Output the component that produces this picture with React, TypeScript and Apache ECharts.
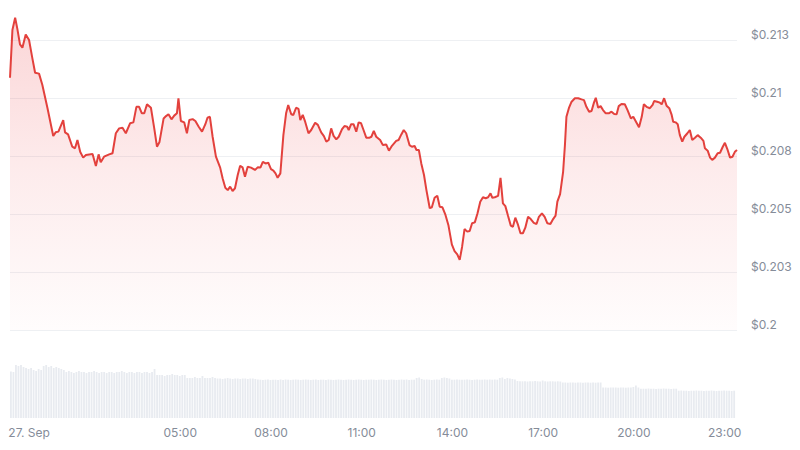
import React, { useEffect, useRef } from "react";
import * as echarts from "echarts";

// Hours relative to 27 Sep 00:00
const priceHours: number[] = [
  -0.63, -0.55, -0.46, -0.39, -0.30, -0.22, -0.11, 0.00, 0.11, 0.20,
  0.33, 0.44, 0.61, 0.80, 0.88, 0.97, 1.13, 1.19, 1.29, 1.43,
  1.52, 1.60, 1.69, 1.79, 1.88, 2.10, 2.21, 2.30, 2.37, 2.48,
  2.65, 2.76, 2.87, 2.98, 3.09, 3.20, 3.34, 3.45, 3.55, 3.64,
  3.73, 3.81, 3.90, 4.03, 4.14, 4.23, 4.31, 4.45, 4.53, 4.61,
  4.71, 4.80, 4.89, 4.94, 5.02, 5.13, 5.22, 5.30, 5.41, 5.50,
  5.61, 5.72, 5.83, 5.90, 5.98, 6.07, 6.18, 6.32, 6.40, 6.49,
  6.57, 6.65, 6.73, 6.81, 6.90, 6.98, 7.06, 7.14, 7.23, 7.34,
  7.47, 7.56, 7.65, 7.73, 7.82, 7.91, 8.00, 8.08, 8.15, 8.22,
  8.31, 8.41, 8.50, 8.57, 8.67, 8.74, 8.83, 8.91, 8.97, 9.05,
  9.13, 9.24, 9.33, 9.46, 9.55, 9.66, 9.75, 9.83, 9.91, 9.99,
  10.07, 10.16, 10.24, 10.35, 10.43, 10.52, 10.57, 10.65, 10.73, 10.82,
  10.90, 10.98, 11.06, 11.15, 11.26, 11.32, 11.40, 11.48,
  11.61, 11.70, 11.81, 11.90, 12.00, 12.14, 12.22, 12.31, 12.39, 12.47,
  12.58, 12.66, 12.75, 12.81, 12.89, 12.97, 13.06, 13.14, 13.25, 13.32,
  13.41, 13.50, 13.58, 13.67, 13.77, 13.87, 13.98, 14.07, 14.16, 14.24,
  14.32, 14.40, 14.49, 14.57, 14.65, 14.74, 14.83, 14.92, 15.01, 15.10,
  15.18, 15.26, 15.32, 15.40, 15.51, 15.59, 15.67, 15.75, 15.84, 15.93,
  16.00, 16.08, 16.17, 16.25, 16.33, 16.41, 16.50, 16.59, 16.69, 16.78,
  16.86, 16.96, 17.05, 17.14, 17.24, 17.33, 17.41, 17.47, 17.56, 17.66,
  17.72, 17.77, 17.85, 17.94, 18.05, 18.16, 18.27, 18.35, 18.43, 18.52,
  18.60, 18.68, 18.74, 18.82, 18.90, 18.98, 19.07, 19.17, 19.26, 19.35,
  19.43, 19.50, 19.59, 19.70, 19.79, 19.90, 19.98, 20.07, 20.17, 20.26,
  20.33, 20.42, 20.53, 20.62, 20.67, 20.77, 20.86, 20.92, 21.00, 21.08,
  21.17, 21.25, 21.30, 21.38, 21.45, 21.52, 21.60, 21.67, 21.77, 21.85,
  21.93, 22.02, 22.11, 22.21, 22.30, 22.35, 22.44, 22.52, 22.59, 22.68,
  22.77, 22.85, 22.94, 23.01, 23.09, 23.18, 23.26, 23.34, 23.41,
];

const prices: number[] = [
  0.21087, 0.21293, 0.21346, 0.21300, 0.21231, 0.21217, 0.21274, 0.21250, 0.21171, 0.21109,
  0.21105, 0.21056, 0.20956, 0.20836, 0.20852, 0.20855, 0.20905, 0.20852, 0.20843, 0.20790,
  0.20783, 0.20819, 0.20768, 0.20743, 0.20754, 0.20759, 0.20707, 0.20757, 0.20723, 0.20747,
  0.20757, 0.20762, 0.20848, 0.20869, 0.20872, 0.20848, 0.20891, 0.20895, 0.20962, 0.20962,
  0.20934, 0.20934, 0.20973, 0.20958, 0.20869, 0.20790, 0.20809, 0.20912, 0.20922, 0.20930,
  0.20908, 0.20924, 0.20934, 0.20999, 0.20901, 0.20895, 0.20848, 0.20905, 0.20909, 0.20901,
  0.20876, 0.20855, 0.20887, 0.20915, 0.20919, 0.20833, 0.20747, 0.20700, 0.20654, 0.20613,
  0.20603, 0.20618, 0.20599, 0.20611, 0.20668, 0.20708, 0.20701, 0.20661, 0.20704, 0.20700,
  0.20690, 0.20701, 0.20700, 0.20725, 0.20718, 0.20721, 0.20693, 0.20687, 0.20675, 0.20656,
  0.20675, 0.20840, 0.20934, 0.20970, 0.20930, 0.20927, 0.20958, 0.20953, 0.20905, 0.20927,
  0.20898, 0.20848, 0.20862, 0.20893, 0.20884, 0.20852, 0.20836, 0.20812, 0.20819, 0.20869,
  0.20837, 0.20822, 0.20833, 0.20866, 0.20879, 0.20876, 0.20862, 0.20887, 0.20887, 0.20855,
  0.20895, 0.20891, 0.20862, 0.20829, 0.20829, 0.20833, 0.20858, 0.20833,
  0.20819, 0.20797, 0.20800, 0.20773, 0.20794, 0.20815, 0.20819, 0.20843, 0.20862, 0.20848,
  0.20797, 0.20790, 0.20793, 0.20776, 0.20776, 0.20718, 0.20668, 0.20603, 0.20525, 0.20529,
  0.20570, 0.20579, 0.20531, 0.20529, 0.20496, 0.20450, 0.20369, 0.20340, 0.20326, 0.20302,
  0.20359, 0.20435, 0.20424, 0.20427, 0.20460, 0.20464, 0.20503, 0.20553, 0.20572, 0.20568,
  0.20572, 0.20589, 0.20570, 0.20572, 0.20578, 0.20656, 0.20546, 0.20534, 0.20491, 0.20450,
  0.20445, 0.20484, 0.20453, 0.20417, 0.20417, 0.20441, 0.20488, 0.20478, 0.20462, 0.20457,
  0.20488, 0.20503, 0.20488, 0.20460, 0.20457, 0.20478, 0.20493, 0.20553, 0.20586, 0.20682,
  0.20797, 0.20919, 0.20956, 0.20984, 0.20999, 0.20999, 0.20994, 0.20991, 0.20962, 0.20941,
  0.20944, 0.20980, 0.21001, 0.20958, 0.20965, 0.20948, 0.20934, 0.20934, 0.20941, 0.20931,
  0.20930, 0.20965, 0.20974, 0.20973, 0.20948, 0.20912, 0.20919, 0.20898, 0.20874, 0.20919,
  0.20973, 0.20962, 0.20956, 0.20970, 0.20987, 0.20984, 0.20980, 0.20973, 0.20999, 0.20967,
  0.20956, 0.20927, 0.20898, 0.20895, 0.20887, 0.20840, 0.20812, 0.20833, 0.20848, 0.20862,
  0.20819, 0.20829, 0.20840, 0.20829, 0.20815, 0.20783, 0.20773, 0.20743, 0.20733, 0.20743,
  0.20762, 0.20764, 0.20790, 0.20807, 0.20780, 0.20743, 0.20747, 0.20768, 0.20776,
];

// Volume bars, one every 5 minutes starting at volumeStartHour (relative units)
const volumeStartHour = -0.6;
const volumeStepMinutes = 5;
const volumes: number[] = [
  46.5, 46, 53, 52, 53, 51, 50, 49, 50, 48, 47, 49,
  48, 52, 53, 51, 52, 50, 51, 50, 49, 48, 46, 47,
  46, 45, 46, 47, 46, 46, 45, 46, 46, 47, 46, 45,
  46, 46, 45, 46, 46, 45, 46, 46, 47, 46, 45, 46,
  46, 45, 46, 46, 45, 46, 46, 45, 46, 49, 43, 43,
  43, 42, 43, 43, 44, 43, 43, 42, 43, 43, 40, 40,
  40, 41, 40, 40, 42, 40, 40, 40, 41, 40, 39.5, 39.5,
  39, 39.5, 40, 39.5, 39, 39.5, 39.5, 39, 39.5, 39.5, 39, 39.5,
  39.5, 39, 38.5, 38.3, 38, 38.3, 38.5, 38, 38.3, 38.3, 38, 38.5,
  38, 38.5, 38.3, 38, 38.3, 38.5, 38.3, 38, 38.3, 38.5, 38.3, 38,
  38.3, 38.5, 38, 38.3, 38.3, 38, 38.5, 38.3, 38, 38.3, 38.5, 38.3,
  38, 38.3, 38.5, 38.3, 38, 38.3, 38.5, 38.3, 38, 38.3, 38.3, 38.5,
  38.3, 38, 38.3, 38.5, 38.3, 38, 38.3, 38.5, 38.3, 38, 38.3, 38.5,
  38.3, 38.5, 38, 38.3, 38.3, 40, 40.5, 39, 38.3, 38.5, 38.3, 38,
  38.3, 38.5, 38.3, 40, 40.5, 40, 39.5, 38.3, 38.3, 38.5, 38.3, 38.3,
  38.3, 38.5, 38.3, 38, 38.3, 38.5, 38.3, 38.3, 38.5, 38.3, 38.5, 38.3,
  38.5, 38.3, 40, 40.5, 39, 40, 39.5, 39, 38.5, 37, 36.7, 36.7,
  36.7, 36.5, 36.7, 36.7, 37, 36.7, 36.5, 37.5, 36.7, 36.5, 36.7, 36.7,
  36.5, 36.7, 36.5, 35.5, 35.5, 35.3, 35.5, 35.5, 35.3, 35.5, 35.5, 35.3,
  35.5, 35.5, 35.3, 35.5, 35.3, 35.5, 35.5, 30.5, 30.5, 30.3, 30.5, 30.5,
  30.5, 30.3, 30.5, 30.5, 30.3, 30.5, 30.5, 31, 32.5, 30.5, 29.3, 29.3,
  29.3, 29.5, 29.3, 29.3, 29, 29.3, 29.3, 29.5, 29.3, 29.3, 29, 29.3,
  29.3, 27.3, 27.5, 27.3, 27.3, 27, 27.3, 27.3, 27.5, 27.3, 27.3, 27,
  27.3, 27.3, 27.5, 27.3, 27, 27.3, 27.3, 27.5, 27.3, 27.3, 27, 27.3,
];

const xTickHours: number[] = [0, 5, 8, 11, 14, 17, 20, 23];
const xTickLabels: string[] = ["27. Sep", "05:00", "08:00", "11:00", "14:00", "17:00", "20:00", "23:00"];

const yMin = 0.2;
const yMax = 0.2125;
const yStep = 0.0025;
const xMin = -0.63;
const xMax = 23.41;

const FONT = 'Inter, "Noto Sans", "DejaVu Sans", sans-serif';
const LABEL_COLOR = "#858c99";

export default function App() {
  const ref = useRef<HTMLDivElement | null>(null);

  useEffect(() => {
    if (!ref.current) return;
    const chart = echarts.init(ref.current, undefined, { renderer: "svg" });

    const priceData = priceHours.map((h, i) => [h, prices[i]]);
    const volumeData = volumes.map((v, k) => [volumeStartHour + (k * volumeStepMinutes) / 60, v]);

    const option: any = {
      animation: false,
      backgroundColor: "#ffffff",
      textStyle: { fontFamily: FONT },
      grid: [
        { left: 10, right: 63, top: 40, height: 290 },
        { left: 10, right: 63, top: 365, height: 53 },
      ],
      xAxis: [
        {
          type: "value",
          gridIndex: 0,
          min: xMin,
          max: xMax,
          show: false,
        },
        {
          type: "value",
          gridIndex: 1,
          min: xMin,
          max: xMax,
          axisLine: { show: false },
          axisTick: { show: false },
          splitLine: { show: false },
          axisLabel: {
            customValues: xTickHours,
            color: LABEL_COLOR,
            fontSize: 12,
            fontFamily: FONT,
            margin: 8,
            formatter: (v: number) => {
              const i = xTickHours.findIndex((h) => Math.abs(h - v) < 1e-6);
              return i >= 0 ? xTickLabels[i] : "";
            },
          },
        },
      ],
      yAxis: [
        {
          type: "value",
          gridIndex: 0,
          position: "right",
          min: yMin,
          max: yMax,
          interval: yStep,
          axisLine: { show: false },
          axisTick: { show: false },
          splitLine: { show: true, lineStyle: { color: "#eef0f3", width: 1 } },
          axisLabel: {
            color: LABEL_COLOR,
            fontSize: 12,
            fontFamily: FONT,
            margin: 14,
            verticalAlign: "bottom",
            lineHeight: 12,
            formatter: (v: number) => {
              const k = Math.round(v * 10000);
              const r = Math.round(k / 10) / 1000;
              return "$" + String(r);
            },
          },
        },
        {
          type: "value",
          gridIndex: 1,
          min: 0,
          max: 53,
          show: false,
          splitLine: { show: false },
        },
      ],
      series: [
        {
          type: "bar",
          xAxisIndex: 1,
          yAxisIndex: 1,
          data: volumeData,
          barWidth: 1.8,
          silent: true,
          itemStyle: { color: "#e8ebf0" },
        },
        {
          type: "line",
          xAxisIndex: 0,
          yAxisIndex: 0,
          data: priceData,
          symbol: "none",
          showSymbol: false,
          clip: false,
          silent: true,
          lineStyle: { color: "#e3413d", width: 2 },
          areaStyle: {
            origin: "start",
            color: new echarts.graphic.LinearGradient(0, 0, 0, 1, [
              { offset: 0, color: "rgba(236, 60, 66, 0.3)" },
              { offset: 0.5, color: "rgba(236, 60, 66, 0.14)" },
              { offset: 1, color: "rgba(236, 60, 66, 0.02)" },
            ]),
          },
        },
      ],
    };

    chart.setOption(option);
    return () => chart.dispose();
  }, []);

  return (
    <div
      ref={ref}
      style={{ position: "fixed", left: 0, top: 0, width: 800, height: 450, background: "#fff" }}
    />
  );
}
